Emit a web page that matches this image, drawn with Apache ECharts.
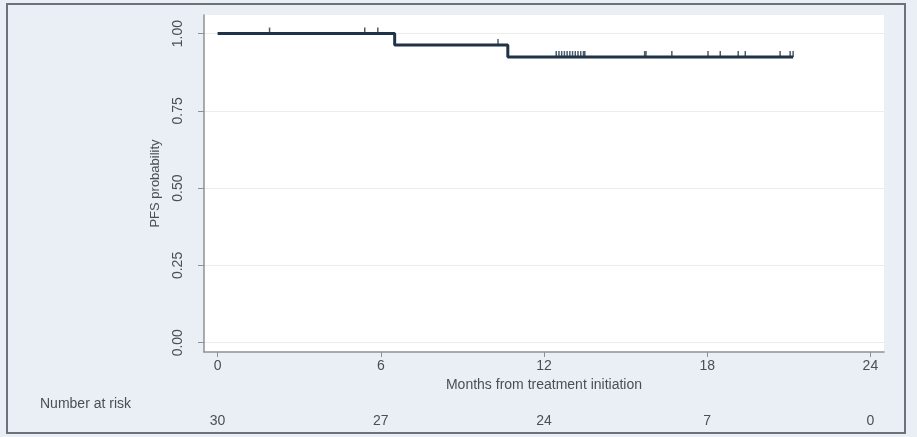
<!DOCTYPE html>
<html>
<head>
<meta charset="utf-8">
<script src="https://cdn.jsdelivr.net/npm/echarts@6/dist/echarts.min.js"></script>
<style>
html, body { margin: 0; padding: 0; background: #e9eff4; }
#main { width: 917px; height: 437px; }
</style>
</head>
<body>
<div id="main"></div>
<script>
// step curve (Kaplan-Meier)
var stepTimes = [0, 6.51, 10.67, 21.16];
var stepSurv = [1.0, 0.963, 0.924, 0.924];
// censored observations (months)
var censorTimes = [1.91, 5.41, 5.89, 10.31,
  12.45, 12.55, 12.65, 12.75, 12.85, 12.95, 13.05, 13.15, 13.25, 13.35, 13.45, 13.5, 15.7,
  15.75, 16.7, 18.03, 18.48, 19.14, 19.4, 20.68, 21.05, 21.16];
var xTicks = [0, 6, 12, 18, 24];
var yTicks = [0, 0.25, 0.5, 0.75, 1];
var atRisk = [30, 27, 24, 7, 0];

function survAt(t) {
  var s = stepSurv[0];
  for (var i = 0; i < stepTimes.length; i++) {
    if (stepTimes[i] <= t) s = stepSurv[i];
  }
  return s;
}

var curve = stepTimes.map(function (t, i) { return [t, stepSurv[i]]; });
var censors = censorTimes.map(function (t) { return [t, survAt(t)]; });

var txt = '#4a4f55';
var font = 'Liberation Sans';

var myChart = echarts.init(document.getElementById('main'));
var option = {
  backgroundColor: '#e9eff4',
  animation: false,
  graphic: [
    { type: 'rect', shape: { x: 7, y: 4, width: 898, height: 429 },
      style: { fill: 'none', stroke: '#6b737a', lineWidth: 2 } },
    { type: 'text', left: 40, top: 397,
      style: { text: 'Number at risk', font: '14px "Liberation Sans"', fill: txt } }
  ],
  grid: {
    left: 204, right: 33, top: 15, bottom: 85,
    show: true, backgroundColor: '#ffffff', borderWidth: 0
  },
  xAxis: [{
    type: 'value', min: -0.5, max: 24.5,
    name: 'Months from treatment initiation',
    nameLocation: 'middle', nameGap: 26,
    nameTextStyle: { color: txt, fontSize: 14, fontFamily: font },
    axisLine: { show: true, onZero: false, lineStyle: { color: '#8c9298', width: 1.5 } },
    axisTick: { show: true, length: 5, customValues: xTicks, lineStyle: { color: '#8c9298' } },
    axisLabel: { customValues: xTicks, color: txt, fontSize: 14, fontFamily: font, margin: 7 },
    splitLine: { show: false }
  }, {
    // number at risk row
    type: 'value', min: -0.5, max: 24.5, position: 'bottom', offset: 62,
    axisLine: { show: false, onZero: false }, axisTick: { show: false }, splitLine: { show: false },
    axisLabel: {
      customValues: xTicks, color: txt, fontSize: 14, fontFamily: font, margin: 0,
      formatter: function (v) { return String(atRisk[xTicks.indexOf(v)]); }
    }
  }],
  yAxis: {
    type: 'value', min: -0.03, max: 1.06,
    name: 'PFS probability', nameLocation: 'middle', nameGap: 42, nameRotate: 90,
    nameTextStyle: { color: txt, fontSize: 13, fontFamily: font },
    axisLine: { show: true, onZero: false, lineStyle: { color: '#8c9298', width: 1.5 } },
    axisTick: { show: true, length: 6, customValues: yTicks, lineStyle: { color: '#8c9298' } },
    axisLabel: {
      customValues: yTicks, rotate: 90, color: txt, fontSize: 14, fontFamily: font, margin: 19,
      formatter: function (v) { return v.toFixed(2); }
    },
    splitLine: { show: true, lineStyle: { color: '#ececec', width: 1 } }
  },
  series: [{
    type: 'line', step: 'end', data: curve, symbol: 'none',
    lineStyle: { color: '#1e3347', width: 3 }
  }, {
    type: 'scatter', data: censors, symbol: 'rect', symbolSize: [1.5, 6], symbolOffset: [0, -3],
    itemStyle: { color: '#1e3347' }
  }]
};
myChart.setOption(option);
</script>
</body>
</html>
